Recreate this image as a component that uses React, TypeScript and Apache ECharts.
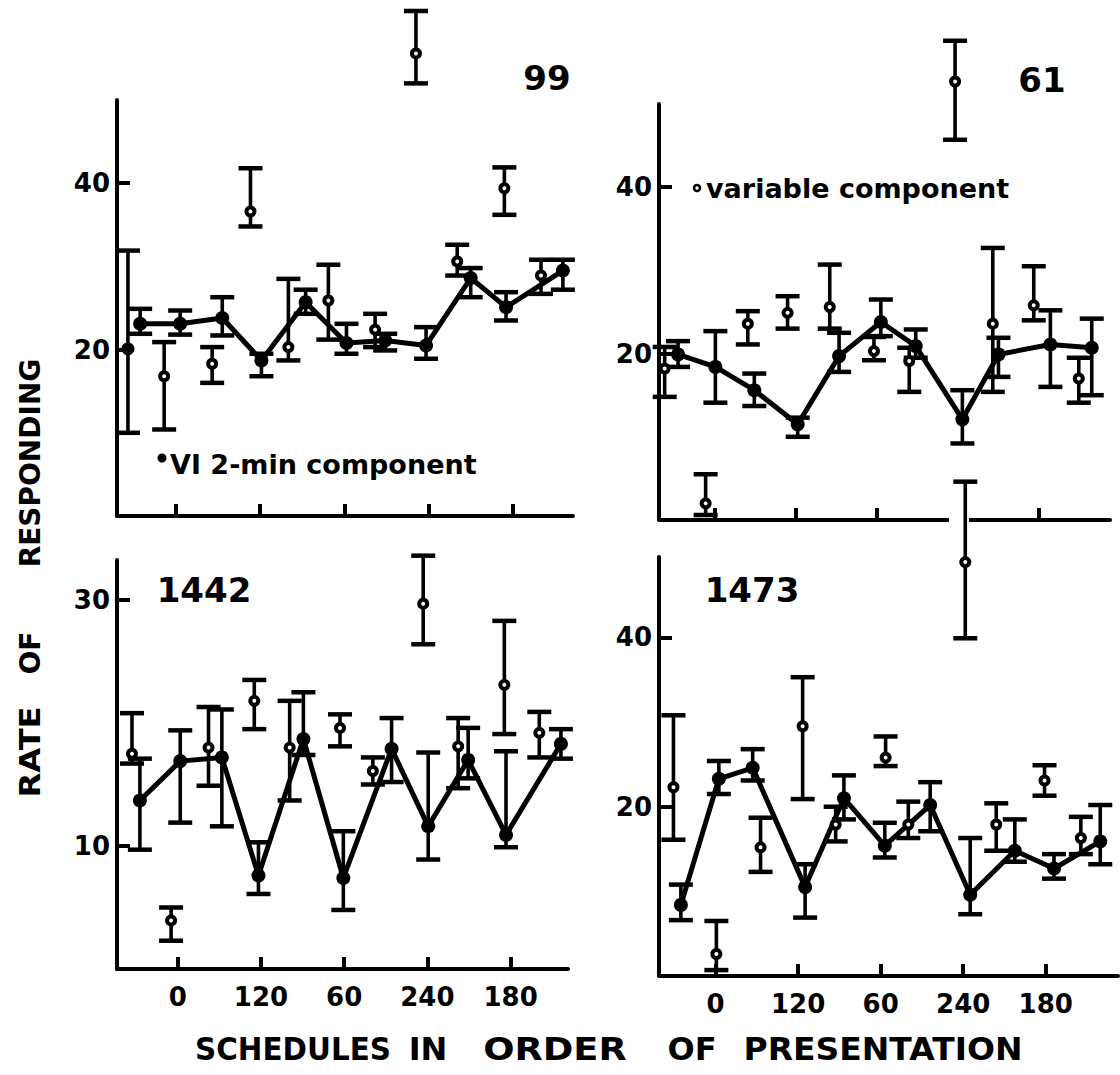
import React, { useEffect, useRef } from 'react';
import * as echarts from 'echarts';

// Presentation order positions of the x ticks and the schedule (sec) printed under them
const xTickPositions = [2, 4, 6, 8, 10];
const xTickLabels = ['0', '120', '60', '240', '180'];

// Each row: [order position, mean rate, lower end of bar, upper end of bar]
// Subject 99
const vi99 = [
  [1.15, 23.1, 21.9, 24.9],
  [2.1, 23.1, 21.8, 24.7],
  [3.1, 23.8, 21.7, 26.3],
  [4.03, 18.7, 16.8, 19.5],
  [5.08, 25.7, 24.3, 27.2],
  [6.05, 20.8, 19.5, 23.1],
  [6.97, 21.1, 19.9, 21.9],
  [7.94, 20.5, 18.9, 22.7],
  [9.0, 28.6, 26.3, 29.8],
  [9.84, 25.1, 23.5, 26.9],
  [11.19, 29.5, 27.2, 30.8],
];
const var99 = [
  [0.86, 20.1, 10.0, 31.9],
  [1.72, 16.8, 10.4, 20.9],
  [2.86, 18.3, 16.0, 20.3],
  [3.77, 36.6, 34.8, 41.8],
  [4.67, 20.3, 18.7, 28.5],
  [5.62, 25.9, 21.2, 30.2],
  [6.73, 22.4, 20.3, 24.3],
  [7.7, 55.6, 52.0, 60.7],
  [8.68, 30.6, 28.9, 32.6],
  [9.8, 39.4, 36.2, 41.9],
  [10.67, 28.9, 26.7, 30.8],
];
// Subject 61
const vi61 = [
  [1.1, 19.9, 18.4, 21.5],
  [2.02, 18.4, 14.1, 22.7],
  [2.98, 15.6, 13.7, 17.6],
  [4.05, 11.5, 10.0, 12.3],
  [5.07, 19.7, 17.8, 22.5],
  [6.1, 23.8, 22.1, 26.5],
  [6.96, 20.9, 19.5, 22.9],
  [8.11, 12.1, 9.2, 15.6],
  [9.0, 19.9, 17.2, 21.9],
  [10.28, 21.1, 16.0, 25.2],
  [11.3, 20.7, 15.0, 24.2],
];
const var61 = [
  [0.77, 18.2, 14.8, 20.8],
  [1.78, 2.0, 0.6, 5.5],
  [2.82, 23.6, 21.1, 25.1],
  [3.8, 24.9, 23.0, 26.9],
  [4.84, 25.6, 23.0, 30.7],
  [5.93, 20.3, 19.2, 22.0],
  [6.8, 19.1, 15.4, 20.7],
  [7.93, 52.7, 45.7, 57.6],
  [8.86, 23.6, 15.4, 32.7],
  [9.87, 25.8, 24.0, 30.5],
  [10.98, 17.0, 14.1, 19.5],
];
// Subject 1442
const vi1442 = [
  [1.09, 13.7, 9.7, 17.1],
  [2.06, 16.9, 11.9, 19.4],
  [3.06, 17.2, 11.6, 21.1],
  [3.94, 7.6, 6.1, 10.3],
  [5.02, 18.7, 17.4, 22.5],
  [5.98, 7.4, 4.8, 11.2],
  [7.14, 17.9, 15.2, 20.4],
  [8.02, 11.6, 8.9, 17.6],
  [8.98, 17.0, 15.5, 19.6],
  [9.89, 10.9, 9.9, 17.7],
  [11.21, 18.3, 17.1, 19.5],
];
const var1442 = [
  [0.9, 17.5, 16.7, 20.8],
  [1.84, 3.95, 2.3, 5.0],
  [2.74, 18.0, 14.9, 21.3],
  [3.84, 21.8, 19.5, 23.5],
  [4.69, 18.0, 13.7, 21.8],
  [5.9, 19.6, 18.1, 20.7],
  [6.69, 16.1, 15.0, 17.2],
  [7.9, 29.7, 26.4, 33.6],
  [8.74, 18.1, 14.7, 20.4],
  [9.85, 23.1, 19.1, 28.3],
  [10.69, 19.2, 17.2, 20.9],
];
// Subject 1473
const vi1473 = [
  [1.16, 8.4, 6.6, 10.8],
  [2.08, 23.3, 21.5, 25.4],
  [2.9, 24.6, 23.1, 26.8],
  [4.17, 10.5, 6.9, 13.2],
  [5.11, 21.0, 18.5, 23.7],
  [6.1, 15.4, 14.0, 18.1],
  [7.2, 20.2, 17.1, 22.9],
  [8.17, 9.6, 7.3, 16.3],
  [9.25, 14.8, 13.5, 18.5],
  [10.2, 12.7, 11.5, 14.4],
  [11.32, 15.9, 13.2, 20.2],
];
const var1473 = [
  [0.98, 22.3, 16.1, 30.8],
  [2.02, 2.6, 0.7, 6.5],
  [3.09, 15.2, 12.3, 18.7],
  [4.11, 29.5, 20.9, 35.3],
  [4.91, 17.9, 15.9, 20.0],
  [6.12, 25.8, 24.8, 28.3],
  [6.67, 17.9, 16.3, 20.6],
  [8.05, 48.9, 39.9, 58.4],
  [8.8, 17.9, 14.8, 20.4],
  [9.97, 23.1, 21.3, 24.9],
  [10.85, 16.3, 14.4, 18.8],
];

const yTicks99 = [20, 40];
const yTicks61 = [20, 40];
const yTicks1442 = [10, 30];
const yTicks1473 = [20, 40];

const subjectLabels = ['99', '61', '1442', '1473'];

const FONT = '"DejaVu Sans", "Liberation Sans", sans-serif';

const panels = [
  { vi: vi99, vr: var99, yTicks: yTicks99, left: 117, top: 100, width: 456, height: 416, xMin: 0.6, xMax: 11.43, yMax: 50, xLabels: false },
  { vi: vi61, vr: var61, yTicks: yTicks61, left: 659, top: 104, width: 451, height: 416, xMin: 0.63, xMax: 11.75, yMax: 50, xLabels: false },
  { vi: vi1442, vr: var1442, yTicks: yTicks1442, left: 117, top: 560, width: 451, height: 409, xMin: 0.54, xMax: 11.38, yMax: 33.25, xLabels: true },
  { vi: vi1473, vr: var1473, yTicks: yTicks1473, left: 659, top: 557, width: 459, height: 419, xMin: 0.63, xMax: 11.75, yMax: 49.5, xLabels: true },
];

function errorBarRender(params: any, api: any) {
  const x = api.value(0);
  const lo = api.coord([x, api.value(1)]);
  const hi = api.coord([x, api.value(2)]);
  const hw = 12;
  const stem = { stroke: '#000', lineWidth: 3.6 };
  const cap = { stroke: '#000', lineWidth: 4.5 };
  return {
    type: 'group',
    children: [
      { type: 'line', shape: { x1: lo[0], y1: lo[1], x2: hi[0], y2: hi[1] }, style: stem },
      { type: 'line', shape: { x1: hi[0] - hw, y1: hi[1], x2: hi[0] + hw, y2: hi[1] }, style: cap },
      { type: 'line', shape: { x1: lo[0] - hw, y1: lo[1], x2: lo[0] + hw, y2: lo[1] }, style: cap },
    ],
  };
}

function buildOption() {
  const grid: any[] = [];
  const xAxis: any[] = [];
  const yAxis: any[] = [];
  const series: any[] = [];
  const labelStyle = { color: '#000', fontFamily: FONT, fontWeight: 'bold', fontSize: 26 };

  panels.forEach((p, i) => {
    grid.push({ left: p.left, top: p.top, width: p.width, height: p.height, outerBoundsMode: 'none' });
    xAxis.push({
      type: 'value',
      gridIndex: i,
      min: p.xMin,
      max: p.xMax,
      splitLine: { show: false },
      axisLine: { show: true, onZero: false, lineStyle: { color: '#000', width: 4 } },
      axisTick: { show: true, inside: true, length: 12, lineStyle: { color: '#000', width: 4 }, customValues: xTickPositions },
      axisLabel: {
        show: p.xLabels,
        customValues: xTickPositions,
        margin: 15,
        ...labelStyle,
        formatter: (v: number) => xTickLabels[xTickPositions.indexOf(Math.round(v))] ?? '',
      },
    });
    yAxis.push({
      type: 'value',
      gridIndex: i,
      min: 0,
      max: p.yMax,
      splitLine: { show: false },
      axisLine: { show: true, onZero: false, lineStyle: { color: '#000', width: 4 } },
      axisTick: { show: true, inside: true, length: 13, lineStyle: { color: '#000', width: 4 }, customValues: p.yTicks },
      axisLabel: { show: true, customValues: p.yTicks, margin: 7, ...labelStyle },
    });

    series.push({
      type: 'custom',
      xAxisIndex: i,
      yAxisIndex: i,
      clip: false,
      renderItem: errorBarRender,
      encode: { x: 0, y: [1, 2] },
      data: p.vr.map((d) => [d[0], d[2], d[3]]),
      z: 3,
    });
    series.push({
      type: 'custom',
      xAxisIndex: i,
      yAxisIndex: i,
      clip: false,
      renderItem: errorBarRender,
      encode: { x: 0, y: [1, 2] },
      data: p.vi.map((d) => [d[0], d[2], d[3]]),
      z: 3,
    });
    series.push({
      type: 'line',
      xAxisIndex: i,
      yAxisIndex: i,
      clip: false,
      data: p.vi.map((d) => [d[0], d[1]]),
      symbol: 'circle',
      symbolSize: 14,
      showSymbol: true,
      lineStyle: { color: '#000', width: 5 },
      itemStyle: { color: '#000' },
      z: 4,
    });
    series.push({
      type: 'scatter',
      xAxisIndex: i,
      yAxisIndex: i,
      clip: false,
      data: p.vr.map((d, k) =>
        i === 0 && k === 0
          ? { value: [d[0], d[1]], symbolSize: 13, itemStyle: { color: '#000', borderWidth: 0 } }
          : [d[0], d[1]]
      ),
      symbol: 'circle',
      symbolSize: 8,
      itemStyle: { color: '#fff', borderColor: '#000', borderWidth: 4, opacity: 1 },
      z: 5,
    });
  });

  const textEl = (text: string, x: number, y: number, size: number, extra: any = {}) => ({
    type: 'text',
    x,
    y,
    ...extra,
    style: {
      text,
      fill: '#000',
      font: `bold ${size}px ${FONT}`,
      textAlign: 'center',
      textVerticalAlign: 'middle',
    },
  });

  const graphic: any[] = [
    // break in the x axis of subject 61
    { type: 'rect', shape: { x: 949, y: 505, width: 20, height: 24 }, style: { fill: '#fff' }, z: 1 },
    // subject numbers
    textEl(subjectLabels[0], 547, 78, 34),
    textEl(subjectLabels[1], 1042, 80, 34),
    textEl(subjectLabels[2], 204, 590, 34),
    textEl(subjectLabels[3], 752, 590, 34),
    // legends
    { type: 'circle', shape: { cx: 162, cy: 458, r: 4.5 }, style: { fill: '#000' } },
    {
      type: 'text', x: 170, y: 464,
      style: { text: 'VI 2-min component', fill: '#000', font: `bold 27px ${FONT}`, textAlign: 'left', textVerticalAlign: 'middle' },
    },
    { type: 'circle', shape: { cx: 697, cy: 188, r: 3 }, style: { fill: '#fff', stroke: '#000', lineWidth: 2.5 } },
    {
      type: 'text', x: 706, y: 188,
      style: { text: 'variable component', fill: '#000', font: `bold 27px ${FONT}`, textAlign: 'left', textVerticalAlign: 'middle' },
    },
    // y title
    textEl('RESPONDING', 30, 463, 28, { rotation: Math.PI / 2 }),
    textEl('OF', 30, 653, 28, { rotation: Math.PI / 2 }),
    textEl('RATE', 30, 752, 28, { rotation: Math.PI / 2, scaleX: 1.15 }),
    // x title
    textEl('SCHEDULES', 293, 1049, 32, { scaleX: 0.92 }),
    textEl('IN', 428, 1049, 32),
    textEl('ORDER', 555, 1049, 32, { scaleX: 1.15 }),
    textEl('OF', 692, 1049, 32),
    textEl('PRESENTATION', 883, 1049, 32, { scaleX: 1.03 }),
  ];

  return {
    animation: false,
    backgroundColor: '#fff',
    grid,
    xAxis,
    yAxis,
    series,
    graphic,
  };
}

export default function App() {
  const ref = useRef<HTMLDivElement>(null);
  useEffect(() => {
    if (!ref.current) return;
    const chart = echarts.init(ref.current, undefined, { renderer: 'svg' });
    chart.setOption(buildOption() as any);
    return () => chart.dispose();
  }, []);
  return (
    <div
      ref={ref}
      style={{ position: 'absolute', left: 0, top: 0, width: 1120, height: 1075, background: '#fff' }}
    />
  );
}
